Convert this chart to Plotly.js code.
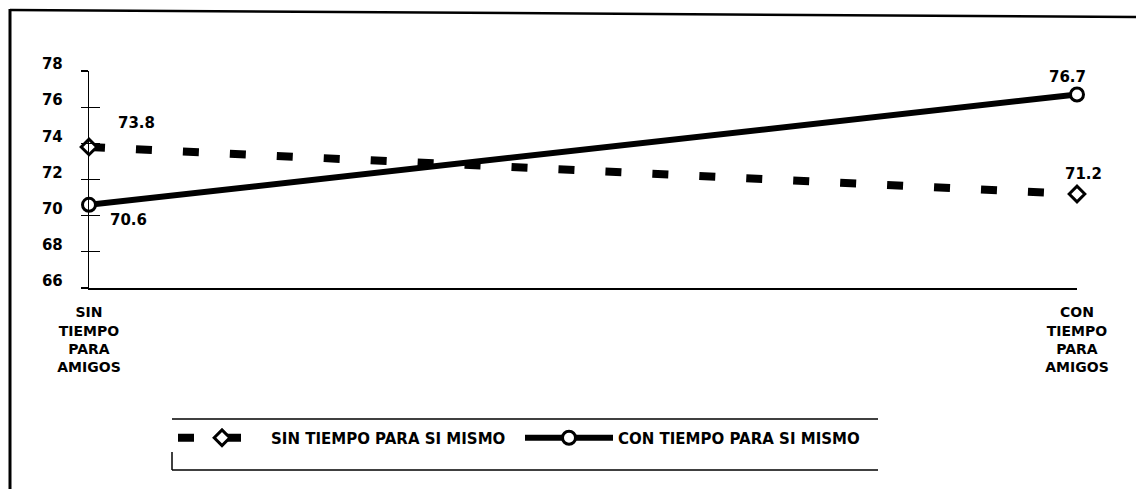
<!DOCTYPE html>
<html>
<head>
<meta charset="utf-8">
<script src="https://cdn.plot.ly/plotly-3.0.1.min.js"></script>
<style>html,body{margin:0;padding:0;background:#fff;}#chart{width:1136px;height:489px;}</style>
</head>
<body>
<div id="chart"></div>
<script>
// ---- data ----
const categories = ['SIN<br>TIEMPO<br>PARA<br>AMIGOS', 'CON<br>TIEMPO<br>PARA<br>AMIGOS'];
const sinTiempoParaSiMismo = [73.8, 71.2];
const conTiempoParaSiMismo = [70.6, 76.7];
const seriesNames = ['SIN TIEMPO PARA SI MISMO', 'CON TIEMPO PARA SI MISMO'];
const yTickValues = [66, 68, 70, 72, 74, 76, 78];

// ---- layout helpers ----
const W = 1136, H = 489;
const M = {l: 89, r: 59, t: 71, b: 201};
const PW = W - M.l - M.r, PH = H - M.t - M.b;
const px = X => (X - M.l) / PW;
const py = Y => (H - M.b - Y) / PH;

const FONT = 'DejaVu Sans, Liberation Sans, Arial, sans-serif';
const BLACK = '#000000';

const traces = [
  {
    x: categories, y: sinTiempoParaSiMismo, name: seriesNames[0],
    type: 'scatter', mode: 'lines+markers', cliponaxis: false,
    line: {color: BLACK, width: 8, dash: '16px,31px'},
    marker: {symbol: 'diamond', size: 12, color: '#ffffff', line: {color: BLACK, width: 3}},
    legend: 'legend'
  },
  {
    x: categories, y: conTiempoParaSiMismo, name: seriesNames[1],
    type: 'scatter', mode: 'lines+markers', cliponaxis: false, yaxis: 'y2',
    line: {color: BLACK, width: 6},
    marker: {symbol: 'circle', size: 13, color: '#ffffff', line: {color: BLACK, width: 3}},
    legend: 'legend2'
  }
];

// value labels
const labelFont = {family: FONT, size: 15, color: BLACK, weight: 700};
const annotations = [
  {x: categories[0], y: sinTiempoParaSiMismo[0], text: sinTiempoParaSiMismo[0].toFixed(1), xshift: 47, yshift: 24},
  {x: categories[0], y: conTiempoParaSiMismo[0], text: conTiempoParaSiMismo[0].toFixed(1), xshift: 39, yshift: -15},
  {x: categories[1], y: conTiempoParaSiMismo[1], text: conTiempoParaSiMismo[1].toFixed(1), xshift: -10, yshift: 18},
  {x: categories[1], y: sinTiempoParaSiMismo[1], text: sinTiempoParaSiMismo[1].toFixed(1), xshift: 6, yshift: 20}
].map(a => Object.assign(a, {xref: 'x', yref: 'y', showarrow: false, font: labelFont}));

// frame and legend box lines (decoration)
const seg = (x0, y0, x1, y1, w) => ({type: 'line', xref: 'paper', yref: 'paper',
  x0: px(x0), y0: py(y0), x1: px(x1), y1: py(y1), line: {color: BLACK, width: w}});
const shapes = [
  seg(10, 10, 1136, 17, 2.5),
  seg(10, 9, 10, 489, 3),
  seg(172, 419, 878, 419, 1.5),
  seg(172, 470, 878, 470, 1.5),
  seg(172, 452, 172, 470, 1.5)
];

const legendFont = {family: FONT, size: 15, color: BLACK, weight: 700};
const layout = {
  width: W, height: H,
  margin: M,
  paper_bgcolor: '#ffffff', plot_bgcolor: '#ffffff',
  font: {family: FONT, color: BLACK},
  xaxis: {
    type: 'category', range: [0, 1],
    showgrid: false, zeroline: false,
    showline: true, linecolor: BLACK, linewidth: 1.5,
    ticks: '', ticklabelstandoff: 11,
    tickfont: {family: FONT, size: 14, color: BLACK, weight: 700}
  },
  yaxis: {
    range: [66, 78], tickvals: yTickValues,
    showgrid: false, zeroline: false,
    showline: true, linecolor: BLACK, linewidth: 1.2,
    ticks: 'inside', ticklen: 11, tickwidth: 1.2, tickcolor: BLACK,
    ticklabelshift: -7, ticklabelstandoff: 22,
    tickfont: {family: FONT, size: 15, color: BLACK, weight: 700}
  },
  yaxis2: {
    overlaying: 'y', anchor: 'x', side: 'left',
    range: [66, 78], tickvals: yTickValues,
    showgrid: false, zeroline: false, showline: false, showticklabels: false,
    ticks: 'outside', ticklen: 7, tickwidth: 1.2, tickcolor: BLACK
  },
  showlegend: true,
  legend: {
    x: px(173), y: py(438), xanchor: 'left', yanchor: 'middle',
    orientation: 'h', itemwidth: 88, font: legendFont,
    bgcolor: 'rgba(0,0,0,0)', borderwidth: 0
  },
  legend2: {
    x: px(520), y: py(438), xanchor: 'left', yanchor: 'middle',
    orientation: 'h', itemwidth: 88, font: legendFont,
    bgcolor: 'rgba(0,0,0,0)', borderwidth: 0
  },
  annotations: annotations,
  shapes: shapes,
  hovermode: false
};

Plotly.newPlot('chart', traces, layout, {staticPlot: true, displayModeBar: false});
</script>
</body>
</html>
